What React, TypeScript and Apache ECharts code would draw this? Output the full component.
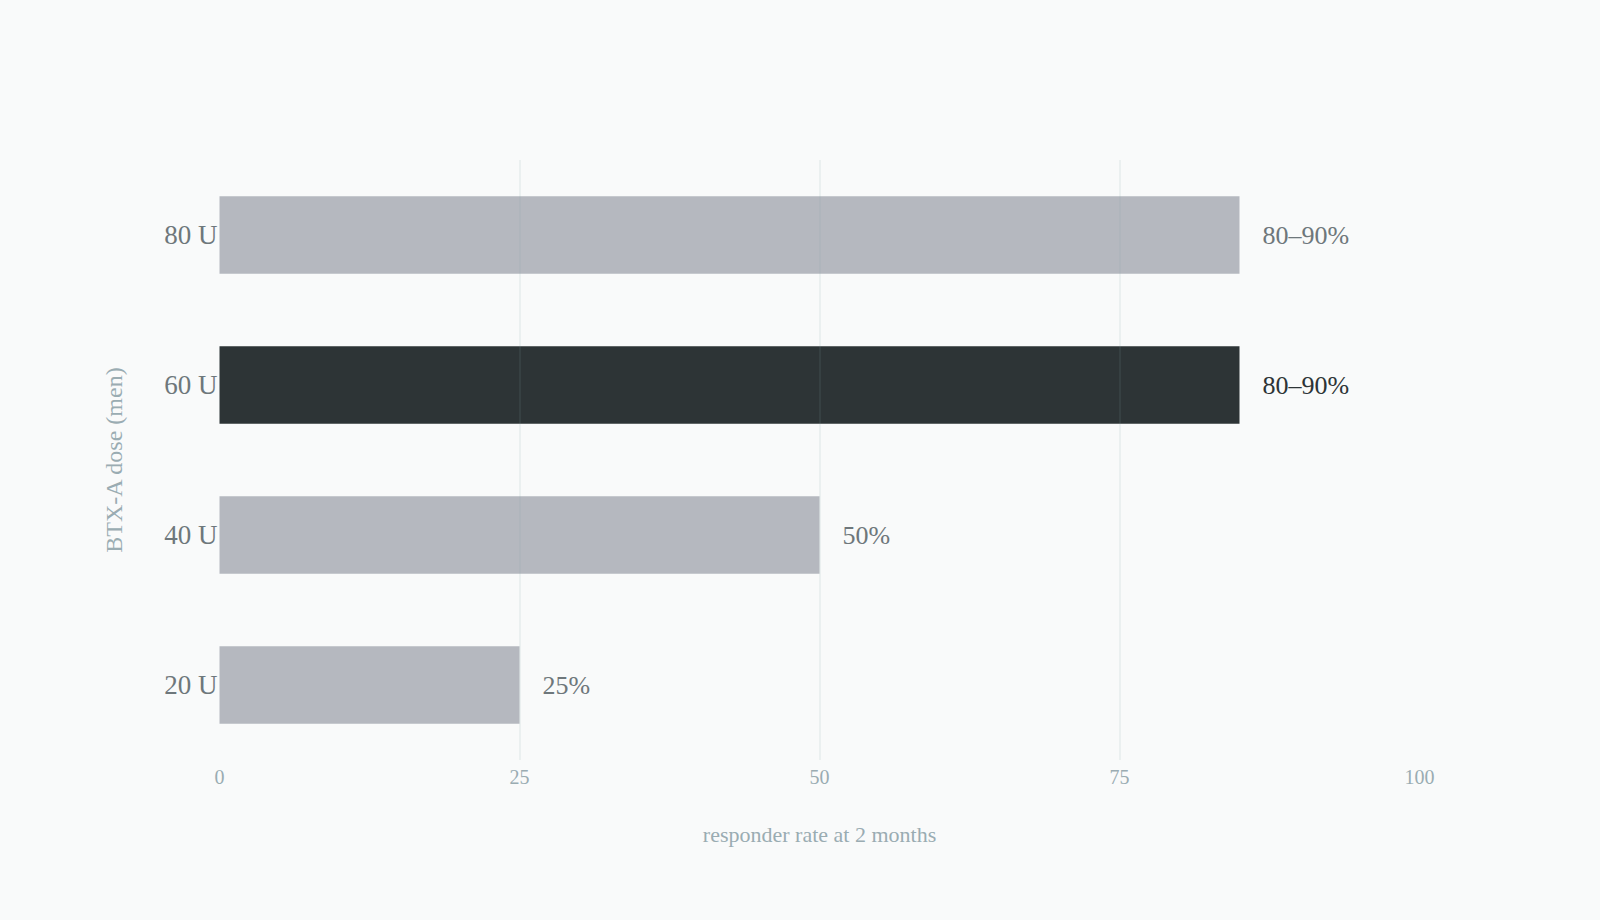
import React, { useEffect, useRef } from "react";
import * as echarts from "echarts";

const categories = ["20 U", "40 U", "60 U", "80 U"];
const values = [25, 50, 85, 85];
const valueLabels = ["25%", "50%", "80–90%", "80–90%"];
const highlighted = ["60 U"];
const xTicks = [0, 25, 50, 75, 100];

const FONT = '"Liberation Serif", "Times New Roman", serif';
const GRAY_BAR = "#b5b8bf";
const DARK_BAR = "#2d3436";
const GRID = "rgba(130,160,160,0.11)";

export default function App() {
  const ref = useRef<HTMLDivElement>(null);
  useEffect(() => {
    if (!ref.current) return;
    const chart = echarts.init(ref.current, undefined, { renderer: "svg" });
    const data = categories.map((c, i) => {
      const hi = highlighted.includes(c);
      return {
        value: values[i],
        itemStyle: { color: hi ? DARK_BAR : GRAY_BAR },
        label: { color: hi ? DARK_BAR : "#6e777b" },
      };
    });
    chart.setOption({
      animation: false,
      backgroundColor: "#f9fafa",
      textStyle: { fontFamily: FONT },
      grid: { left: 219.5, right: 180.5, top: 160, bottom: 160, containLabel: false },
      xAxis: {
        type: "value",
        z: 5,
        min: xTicks[0],
        max: xTicks[xTicks.length - 1],
        interval: 25,
        axisLine: { show: false },
        axisTick: { show: false },
        splitLine: {
          show: true,
          lineStyle: {
            color: xTicks.map((t, i) => (i === 0 || i === xTicks.length - 1 ? "rgba(0,0,0,0)" : GRID)),
            width: 2,
          },
        },
        axisLabel: { color: "#9aacb2", fontSize: 20, fontFamily: FONT, margin: 7 },
        name: "responder rate at 2 months",
        nameLocation: "middle",
        nameGap: 63,
        nameTextStyle: { color: "#9aacb2", fontSize: 22, fontFamily: FONT },
      },
      yAxis: {
        type: "category",
        data: categories,
        axisLine: { show: false },
        axisTick: { show: false },
        splitLine: { show: false },
        axisLabel: { color: "#6e777b", fontSize: 27, fontFamily: FONT, margin: 2 },
        name: "BTX-A dose (men)",
        nameLocation: "middle",
        nameGap: 94,
        nameTextStyle: { color: "#9aacb2", fontSize: 24, fontFamily: FONT },
      },
      series: [
        {
          type: "bar",
          data,
          barWidth: "51.6%",
          label: {
            show: true,
            position: "right",
            distance: 23,
            fontSize: 26,
            fontFamily: FONT,
            formatter: (p: any) => valueLabels[p.dataIndex],
          },
        },
      ],
    });
    return () => chart.dispose();
  }, []);
  return (
    <div
      ref={ref}
      style={{ position: "fixed", left: 0, top: 0, width: 1600, height: 920 }}
    />
  );
}
